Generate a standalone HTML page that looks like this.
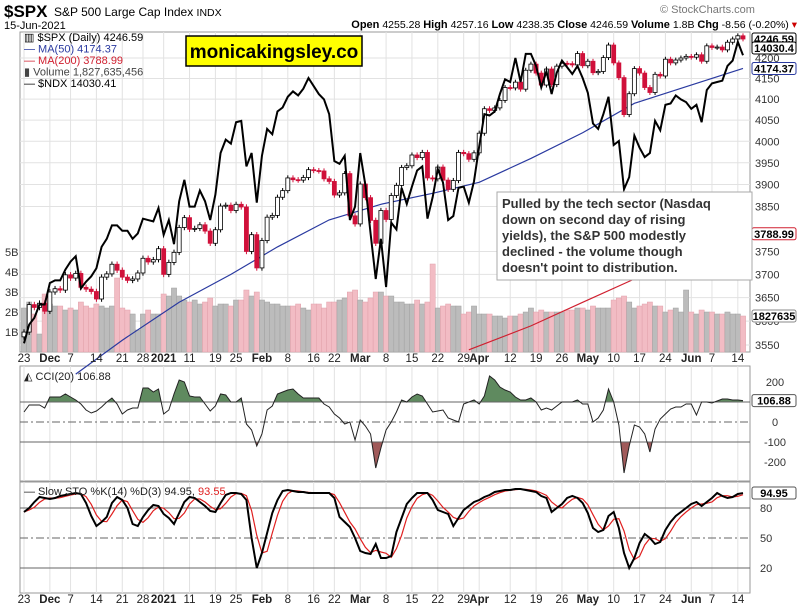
<!DOCTYPE html>
<html><head><meta charset="utf-8"><style>
body{margin:0;background:#fff;width:803px;height:610px;overflow:hidden;font-family:"Liberation Sans",sans-serif}
svg{display:block}
text{font-family:"Liberation Sans",sans-serif}
</style></head><body>
<svg id="c" width="803" height="610" xmlns="http://www.w3.org/2000/svg">
<text x="4" y="17" font-size="17" font-weight="bold">$SPX</text>
<text x="54" y="16" font-size="12">S&amp;P 500 Large Cap Index <tspan font-size="10.5">INDX</tspan></text>
<text x="4" y="29" font-size="11">15-Jun-2021</text>
<text x="660" y="13" font-size="11" fill="#777">© StockCharts.com</text>
<text x="797" y="28" font-size="10.5" text-anchor="end"><tspan font-weight="bold" font-size="11">Open</tspan> 4255.28 <tspan font-weight="bold" font-size="11">High</tspan> 4257.16 <tspan font-weight="bold" font-size="11">Low</tspan> 4238.35 <tspan font-weight="bold" font-size="11">Close</tspan> 4246.59 <tspan font-weight="bold" font-size="11">Volume</tspan> 1.8B <tspan font-weight="bold" font-size="11">Chg</tspan> -8.56 (-0.20%) <tspan fill="#c00">▾</tspan></text>
<g id="g"></g>
</svg>
<script>
const closes=[3577,3635,3629,3638,3621,
3662,3669,3666,3699,3692,3702,3672,3668,3663,3647,3694,3701,3722,3709,3694,3687,3690,3703,3735,3727,3732,3756,
3700,3726,3748,3803,3825,3799,3801,3809,3795,3768,3798,3851,3853,3841,3855,3849,3750,3787,3714,
3774,3826,3830,3871,3886,3915,3911,3910,3916,3934,3932,3931,3913,3907,3876,3881,3925,3829,3811,
3901,3870,3819,3768,3841,3821,3875,3898,3939,3943,3968,3962,3974,3915,3913,3940,3910,3889,3909,3974,3971,3958,3973,
4019,4077,4073,4079,4097,4128,4127,4141,4124,4170,4185,4163,4134,4173,4135,4180,4187,4186,4183,4211,4181,
4192,4164,4167,4201,4232,4188,4152,4063,4113,4174,4163,4128,4116,4160,4156,4197,4188,4195,4200,4204,
4202,4208,4192,4230,4226,4227,4220,4239,4247,4255,4247];
const ndx=[11880,12020,12070,12170,12170,
12330,12350,12350,12430,12490,12530,12290,12340,12380,12440,12600,12660,12760,12760,12720,12720,12660,12700,12810,12800,12790,12890,
12690,12800,12620,12940,13100,12900,12900,13020,12940,12800,12990,13300,13400,13370,13530,13540,13200,13300,12930,
13280,13480,13440,13610,13640,13720,13760,13730,13780,13860,13800,13740,13700,13590,13240,13220,13280,12800,12900,
13300,13060,12700,12360,12660,12300,12780,12730,13040,12920,13050,13170,13200,12810,12970,13180,13080,12800,12830,13040,13050,12930,13090,
13350,13590,13580,13610,13740,13850,13830,14010,13830,14040,14040,13950,13790,13910,13740,13900,13990,13940,13890,13950,13860,
13750,13520,13480,13590,13720,13360,13390,13030,13120,13430,13340,13270,13300,13540,13470,13660,13670,13730,13700,13680,
13630,13660,13530,13770,13820,13830,13840,13950,13990,14130,14030];
const volume=[2.2,2.5,1.9,0.9,2.9,
2.4,2.3,2.3,2.1,2.2,2.1,2.5,2.3,2.2,2.4,2.3,2.2,2.3,3.7,2.2,2.1,1.9,1.1,1.9,2.1,1.9,1.9,
2.9,2.8,3.2,2.8,2.6,2.5,2.6,2.4,2.5,2.7,2.3,2.4,2.4,2.3,2.6,2.6,3.1,2.8,3.0,
2.6,2.5,2.4,2.4,2.3,2.3,2.3,2.4,2.2,2.1,2.4,2.4,2.2,2.5,2.5,2.6,2.7,3.0,3.1,
2.6,2.5,2.7,3.0,3.0,2.8,2.8,2.5,2.5,2.4,2.4,2.6,2.4,2.5,4.4,2.2,2.3,2.4,2.3,2.3,1.9,2.0,2.3,
1.9,1.9,1.9,1.8,1.8,1.7,1.8,1.8,1.9,2.0,2.2,2.0,2.1,2.0,2.0,2.0,2.0,2.1,2.1,2.2,2.2,
2.1,2.3,2.2,2.2,2.2,2.6,2.7,2.8,2.5,2.2,2.3,2.4,2.5,2.3,2.3,2.0,2.1,2.2,2.0,3.1,
2.0,1.9,2.1,2.0,2.0,1.9,1.9,2.0,1.9,1.9,1.8];
const ma50Idx=[10,19,30,40,49,59,69,79,88,98,108,118,128,139];
const ma50Val=[3490,3560,3640,3700,3760,3820,3855,3880,3905,3960,4020,4090,4130,4174.37];
const ma200Idx=[86,98,108,118,128,139];
const ma200Val=[3540,3590,3640,3690,3740,3788.99];
const cci=[50,85,85,85,70,125,125,125,140,125,110,90,60,45,55,75,100,120,90,40,60,70,70,170,170,150,165,40,60,140,
210,200,130,125,125,90,55,80,140,135,100,100,120,-10,-40,-120,-60,60,80,140,150,160,165,140,120,120,120,120,90,75,
40,20,-10,0,-90,10,-20,-60,-230,-130,-40,0,50,110,100,125,140,130,90,50,55,60,20,10,0,90,100,110,90,130,
230,210,175,160,150,125,110,110,120,100,60,70,60,80,100,100,100,110,90,90,0,20,60,165,100,-15,-255,-120,-15,-25,
-60,-150,-35,15,40,65,75,75,90,90,35,100,100,95,105,115,115,110,110,107];
const stoK=[76,80,86,91,90,89,90,92,93,94,95,94,85,72,62,66,71,85,91,88,80,64,62,71,78,83,82,74,70,64,
75,86,91,90,86,82,77,76,85,93,95,95,94,88,50,20,35,55,75,88,
97,98,97,96,96,95,95,95,95,95,90,71,66,61,50,37,35,34,44,30,30,32,56,70,84,90,95,95,95,88,
78,76,74,62,70,78,82,86,88,91,93,96,97,98,98,99,99,98,97,96,
92,90,76,80,84,90,92,90,85,75,60,56,58,72,76,60,35,20,30,45,54,50,44,46,58,66,72,76,80,84,
86,82,86,90,95,92,90,91,94,94.95];
const tickLabels=["23","Dec","7","14","21","28","2021","11","19","25","Feb","8","16","22","Mar","8","15","22","29","Apr","12","19","26","May","10","17","24","Jun","7","14"];
const tickIdx=[0,5,9,14,19,23,27,32,37,41,46,51,56,60,65,70,75,80,85,88,94,99,104,109,114,119,124,129,133,138];
const tickBold=[0,1,0,0,0,0,1,0,0,0,1,0,0,0,1,0,0,0,0,1,0,0,0,1,0,0,0,1,0,0];
const priceTicks=[4200,4150,4100,4050,4000,3950,3900,3850,3750,3700,3650,3600,3550];
const volTicks=[5,4,3,2,1];
const cciTicks=[200,0,-100,-200];
const stoTicks=[80,50,20];

const NS="http://www.w3.org/2000/svg";const G=document.getElementById('g');
function el(t,a,p){const e=document.createElementNS(NS,t);for(const k in a)e.setAttribute(k,a[k]);(p||G).appendChild(e);return e;}
const L=20,R=750;
const X=i=>24+i*(743-24)/139;
const PY=p=>58+1707*Math.log(4200/p);
const NY=v=>78+(13860-v)*0.134;
const VY=v=>352-v*20;
const CY=v=>422-v*0.2;
const SY=v=>588-v;
const panels=[[32,352],[366,481],[482,593]];
panels.forEach((p,k)=>{
  const r=el('rect',{x:L,y:p[0],width:R-L,height:p[1]-p[0],fill:'#fff',stroke:'#999'});
  
  
  tickIdx.forEach(i=>{const l=el('line',{x1:X(i),x2:X(i),y1:p[0],y2:p[1],stroke:'#e2e2e2'});
    });
});
priceTicks.forEach(p=>{const l=el('line',{x1:L,x2:R,y1:PY(p),y2:PY(p),stroke:'#e2e2e2'});
  
  const t=el('text',{x:755,y:PY(p)+4,'font-size':11,fill:'#333'});t.textContent=p;
  });
volTicks.forEach(v=>{const t=el('text',{x:5,y:VY(v)+4,'font-size':11,fill:'#333'});t.textContent=v+'B';
  });
volume.forEach((v,i)=>{const up=i==0||closes[i]>=closes[i-1];
  const b=el('rect',{x:X(i)-2.6,y:VY(v),width:5.2,height:352-VY(v),fill:up?'#bcbcbc':'#f2bcc4',stroke:up?'#a0a0a0':'#e0a0aa','stroke-width':0.5});
  });
function poly(idx,vals,f,col,w,name){const pts=idx.map((i,k)=>X(i)+','+f(vals[k])).join(' ');
  const p=el('polyline',{points:pts,fill:'none',stroke:col,'stroke-width':w});}
poly(ma50Idx,ma50Val,PY,'#2a3aa0',1.2,'ma50-line');
poly(ma200Idx,ma200Val,PY,'#d02030',1.2,'ma200-line');
closes.forEach((c,i)=>{const o=i?closes[i-1]:c-10;const h=Math.max(o,c)+6,l=Math.min(o,c)-6;const up=c>=o;
  const col=up?'#000':'#d0103a';
  const w=el('line',{x1:X(i),x2:X(i),y1:PY(h),y2:PY(l),stroke:col});
  const y1=PY(Math.max(o,c)),y2=PY(Math.min(o,c));
  const b=el('rect',{x:X(i)-2,y:y1,width:4,height:Math.max(1,y2-y1),fill:up?'#fff':col,stroke:col,'stroke-width':0.8});
  });
{const p=el('polyline',{points:ndx.map((v,i)=>X(i)+','+NY(v)).join(' '),fill:'none',stroke:'#000','stroke-width':2});
 }
[362,603].forEach(y=>tickLabels.forEach((s,k)=>{const t=el('text',{x:X(tickIdx[k]),y:y,'font-size':11.5,'text-anchor':'middle','font-weight':tickBold[k]?'bold':'normal',fill:'#222'});t.textContent=s;
  }));
const defs=el('defs',{});
const c1=el('clipPath',{id:'ca'},defs);el('rect',{x:L,y:366,width:R-L,height:CY(100)-366},c1);
const c2=el('clipPath',{id:'cb'},defs);el('rect',{x:L,y:CY(-100),width:R-L,height:481-CY(-100)},c2);
const cpts=cci.map((v,i)=>X(i)+','+CY(v)).join(' ');
{const a=el('polygon',{points:X(0)+','+CY(100)+' '+cpts+' '+X(cci.length-1)+','+CY(100),fill:'#5f8a5f','clip-path':'url(#ca)'});
 const b=el('polygon',{points:X(0)+','+CY(-100)+' '+cpts+' '+X(cci.length-1)+','+CY(-100),fill:'#a05a5a','clip-path':'url(#cb)'});}
[[100,'none'],[-100,'none'],[0,'8,3,2,3']].forEach(d=>{const l=el('line',{x1:L,x2:R,y1:CY(d[0]),y2:CY(d[0]),stroke:'#666','stroke-dasharray':d[1]});});
{const p=el('polyline',{points:cpts,fill:'none',stroke:'#222','stroke-width':1});}
cciTicks.forEach(v=>{const t=el('text',{x:775,y:CY(v)+4,'font-size':11,'text-anchor':'middle',fill:'#333'});t.textContent=v;});
[[80,'none'],[20,'none'],[50,'8,3,2,3']].forEach(d=>{const l=el('line',{x1:L,x2:R,y1:SY(d[0]),y2:SY(d[0]),stroke:'#666','stroke-dasharray':d[1]});});
const stoD=stoK.map((v,i)=>{const s=stoK.slice(Math.max(0,i-2),i+1);return s.reduce((a,b)=>a+b,0)/s.length;});
{const d=el('polyline',{points:stoD.map((v,i)=>X(i)+','+SY(v)).join(' '),fill:'none',stroke:'#e02020','stroke-width':1.2});
 const k=el('polyline',{points:stoK.map((v,i)=>X(i)+','+SY(v)).join(' '),fill:'none',stroke:'#000','stroke-width':2});}
stoTicks.forEach(v=>{const t=el('text',{x:760,y:SY(v)+4,'font-size':11,fill:'#333'});t.textContent=v;});
function box(y,txt,col,name){const r=el('rect',{x:752,y:y-6,width:44,height:12,fill:'#fff',stroke:col,rx:2});
 const t=el('text',{x:774,y:y+4,'font-size':11,'text-anchor':'middle',fill:'#000','font-weight':'bold'});t.textContent=txt;}
box(PY(closes[closes.length-1]),'4246.59','#000','spx-last-value');
box(48,'14030.4','#000','ndx-last-value');
box(PY(ma50Val[ma50Val.length-1]),'4174.37','#2a3aa0','ma50-last-value');
box(PY(ma200Val[ma200Val.length-1]),'3788.99','#d02030','ma200-last-value');
box(VY(volume[volume.length-1]),'1827635','#888','volume-last-value');
box(CY(cci[cci.length-1]),'106.88','#555','cci-last-value');
box(SY(stoK[stoK.length-1]),'94.95','#555','sto-last-value');
[['$SPX (Daily) 4246.59','#000'],['MA(50) 4174.37','#2a3aa0'],['MA(200) 3788.99','#d02030'],['Volume 1,827,635,456','#444'],['$NDX 14030.41','#000']].forEach((d,k)=>{
 const t=el('text',{x:24,y:41+k*11.5,'font-size':11,fill:d[1]});t.textContent=(k==0?'▥ ':k==3?'▮ ':'— ')+d[0];});
{const t=el('text',{x:24,y:380,'font-size':11,fill:'#222'});t.textContent='◭ CCI(20) 106.88';
 const s=el('text',{x:24,y:495,'font-size':11,fill:'#222'});s.innerHTML='— Slow STO %K(14) %D(3) 94.95, <tspan fill="#e02020">93.55</tspan>';}
{const r=el('rect',{x:186,y:36,width:176,height:30,fill:'#ffff00',stroke:'#000','stroke-width':1.5});
 const t=el('text',{x:274,y:58,'font-size':19,'font-weight':'bold','text-anchor':'middle'});t.textContent='monicakingsley.co';}
{const r=el('rect',{x:497,y:192,width:255,height:88,fill:'#fff',stroke:'#aaa'});
 ['Pulled by the tech sector (Nasdaq','down on second day of rising','yields), the S&P 500 modestly','declined - the volume though',"doesn't point to distribution."].forEach((s,k)=>{
 const t=el('text',{x:502,y:208+k*16,'font-size':13,'font-weight':'bold',fill:'#333'});t.textContent=s;});}
</script>
</body></html>
